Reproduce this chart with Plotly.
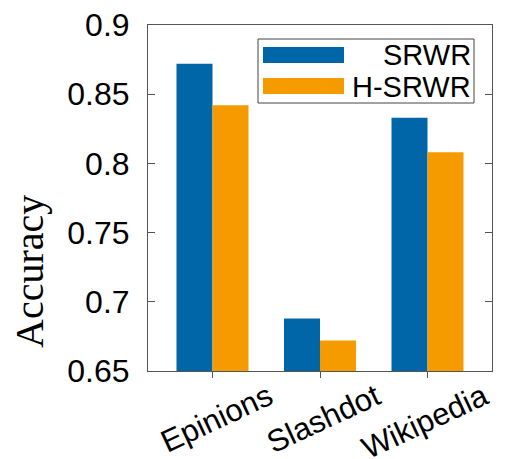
import plotly.graph_objects as go

categories = ["Epinions", "Slashdot", "Wikipedia"]
series_names = ["SRWR", "H-SRWR"]
srwr = [0.872, 0.688, 0.833]
hsrwr = [0.842, 0.672, 0.808]
y_ticks = [0.65, 0.7, 0.75, 0.8, 0.85, 0.9]
y_tick_labels = ["0.65", "0.7", "0.75", "0.8", "0.85", "0.9"]
y_title = "Accuracy"
colors = ["#0066A8", "#F59B00"]

W, H = 508, 459
L, R, T, B = 148, 16, 25, 88
PW, PH = W - L - R, H - T - B

def px(x):
    return (x - L) / PW

def py(y):
    return (H - B - y) / PH

fig = go.Figure()
for name, vals, c in zip(series_names, [srwr, hsrwr], colors):
    fig.add_trace(go.Bar(x=categories, y=vals, name=name, marker=dict(color=c, line=dict(width=0)),
                         showlegend=False))

fig.update_layout(
    width=W, height=H,
    margin=dict(l=L, r=R, t=T, b=B, autoexpand=False),
    paper_bgcolor="white", plot_bgcolor="white",
    barmode="group", bargap=0.33, bargroupgap=0,
    font=dict(family="Liberation Sans, Arial", size=32, color="black"),
)
fig.update_xaxes(
    range=[-0.6, 2.6], showline=True, linecolor="#555", linewidth=1, mirror=True,
    ticks="outside", ticklen=6, tickcolor="#555", tickangle=-25, ticklabelshift=56,
    ticklabelstandoff=-11, tickfont=dict(size=31), showgrid=False, automargin=False,
)
fig.update_yaxes(
    range=[0.65, 0.9], tickvals=y_ticks, ticktext=y_tick_labels,
    showline=True, linecolor="#555", linewidth=1, mirror="ticks",
    ticks="inside", ticklen=7, tickcolor="#555", ticklabelstandoff=11,
    tickfont=dict(size=32), showgrid=False, zeroline=False, automargin=False,
)

# y-axis title (placed low, as in the reference)
fig.add_annotation(xref="paper", yref="paper", x=px(29), y=py(272), text=y_title, textangle=-90,
                   showarrow=False, xanchor="center", yanchor="middle",
                   font=dict(family="Liberation Serif, Times New Roman", size=40, color="black"))

# custom legend box
fig.add_shape(type="rect", xref="paper", yref="paper", x0=px(258), x1=px(474), y0=py(103), y1=py(39),
              line=dict(color="#444", width=1), fillcolor="white", layer="above")
sw_y = [(47, 63), (78, 94)]
txt_y = [55, 87]
for (ya, yb), c, name, ty in zip(sw_y, colors, series_names, txt_y):
    fig.add_shape(type="rect", xref="paper", yref="paper", x0=px(263), x1=px(344), y0=py(yb), y1=py(ya),
                  line=dict(width=0), fillcolor=c, layer="above")
    fig.add_annotation(xref="paper", yref="paper", x=px(473), y=py(ty), text=name, showarrow=False,
                       xanchor="right", yanchor="middle", font=dict(size=29, color="black"))

fig.write_html("out.html", config={"displayModeBar": False},
               post_script="document.body.style.margin='0px';document.body.style.padding='0px';")
